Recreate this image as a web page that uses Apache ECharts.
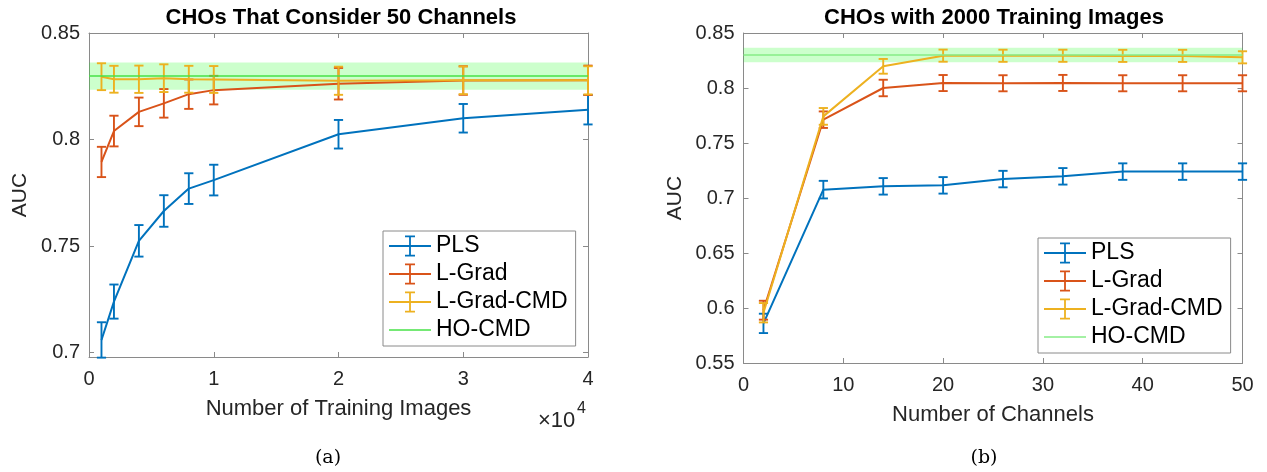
<!DOCTYPE html>
<html><head><meta charset="utf-8">
<script src="https://cdn.jsdelivr.net/npm/echarts@6/dist/echarts.min.js"></script>
<style>html,body{margin:0;padding:0;background:#fff}#c{width:1267px;height:472px}</style>
</head><body><div id="c"></div>
<script>
// ---- Data ----
const trainImages = [1000, 2000, 4000, 6000, 8000, 10000, 20000, 30000, 40000];
const plsA      = [0.706, 0.724, 0.7525, 0.7665, 0.777, 0.781, 0.8025, 0.810, 0.814];
const plsAErr   = [0.0083, 0.0080, 0.0074, 0.0074, 0.0072, 0.0072, 0.0067, 0.0067, 0.0069];
const lgradA    = [0.7895, 0.804, 0.813, 0.817, 0.8213, 0.8232, 0.8262, 0.8277, 0.8278];
const lgradAErr = [0.0071, 0.0072, 0.0067, 0.0067, 0.0069, 0.0067, 0.0074, 0.0067, 0.0069];
const cmdA      = [0.8295, 0.8283, 0.8283, 0.8288, 0.8283, 0.8282, 0.8276, 0.8278, 0.8278];
const cmdAErr   = [0.0063, 0.0063, 0.0064, 0.0065, 0.0063, 0.0063, 0.0066, 0.0065, 0.0066];
const hoA = 0.8298, hoAErr = 0.0064;

const channels  = [2, 8, 14, 20, 26, 32, 38, 44, 50];
const plsB      = [0.586, 0.7076, 0.7106, 0.7115, 0.7172, 0.7197, 0.7240, 0.7240, 0.7240];
const plsBErr   = [0.0088, 0.0080, 0.0075, 0.0075, 0.0075, 0.0075, 0.0075, 0.0075, 0.0075];
const lgradB    = [0.598, 0.7712, 0.800, 0.8045, 0.8043, 0.8046, 0.8043, 0.8043, 0.8043];
const lgradBErr = [0.0086, 0.0075, 0.0075, 0.0073, 0.0073, 0.0073, 0.0073, 0.0073, 0.0073];
const cmdB      = [0.5957, 0.7742, 0.8197, 0.8294, 0.8293, 0.8293, 0.8292, 0.8292, 0.8279];
const cmdBErr   = [0.0088, 0.0076, 0.0067, 0.0055, 0.0055, 0.0055, 0.0055, 0.0055, 0.0055];
const hoB = 0.8300, hoBErr = 0.0065;

const yTicksA = [0.7, 0.75, 0.8, 0.85];
const yTicksB = [0.55, 0.6, 0.65, 0.7, 0.75, 0.8, 0.85];
const seriesNames = ['PLS', 'L-Grad', 'L-Grad-CMD', 'HO-CMD'];

// ---- Styling ----
const FONT = '"Liberation Sans", Arial, Helvetica, sans-serif';
const SERIF = '"DejaVu Serif", "Liberation Serif", serif';
const C = { pls: '#0072BD', lgrad: '#D95319', cmd: '#EDB120', hoA: '#47e247', hoB: '#86ec86' };
const AX = '#8a8a8a', TXT = '#262626';

function errBars(color) {
  return function (params, api) {
    const x = api.value(0), y = api.value(1), e = api.value(2);
    const t = api.coord([x, y + e]), b = api.coord([x, y - e]);
    const w = 4.6;
    const st = { stroke: color, lineWidth: 1.9 };
    return { type: 'group', children: [
      { type: 'line', shape: { x1: t[0], y1: t[1], x2: b[0], y2: b[1] }, style: st },
      { type: 'line', shape: { x1: t[0] - w, y1: t[1], x2: t[0] + w, y2: t[1] }, style: st },
      { type: 'line', shape: { x1: b[0] - w, y1: b[1], x2: b[0] + w, y2: b[1] }, style: st }
    ]};
  };
}
const pairs = (xs, ys) => xs.map((x, i) => [x, ys[i]]);
const triples = (xs, ys, es) => xs.map((x, i) => [x, ys[i], es[i]]);

function lineSeries(name, xi, yi, data, color, z) {
  return { name, type: 'line', xAxisIndex: xi, yAxisIndex: yi, data, showSymbol: false, symbol: 'none',
    lineStyle: { color, width: 2 }, itemStyle: { color }, z, silent: true, animation: false };
}
function barSeries(name, xi, yi, data, color, z) {
  return { name, type: 'custom', xAxisIndex: xi, yAxisIndex: yi, data, renderItem: errBars(color),
    itemStyle: { color }, z, silent: true, animation: false, clip: false };
}
function hoSeries(xi, yi, v, e, color) {
  return { name: 'HO-CMD', type: 'line', xAxisIndex: xi, yAxisIndex: yi, data: [], z: 10,
    itemStyle: { color }, lineStyle: { color }, animation: false, silent: true,
    markArea: { silent: true, itemStyle: { color: 'rgba(0,255,0,0.2)' }, data: [[{ yAxis: v - e }, { yAxis: v + e }]] },
    markLine: { silent: true, symbol: 'none', label: { show: false },
      lineStyle: { color, width: 1.5, type: 'solid' }, data: [{ yAxis: v }] } };
}

function xAxisCfg(grid, pos, min, max, interval, showLabel, fmt, name) {
  return { type: 'value', gridIndex: grid, position: pos, min, max, interval,
    axisLine: { show: true, onZero: false, lineStyle: { color: AX, width: 1 } },
    axisTick: { show: true, inside: true, length: 5, lineStyle: { color: AX } },
    splitLine: { show: false },
    axisLabel: { show: showLabel, formatter: fmt, fontSize: 20, fontFamily: FONT, color: TXT, margin: 12 },
    name: name || '', nameLocation: 'middle', nameGap: 41,
    nameTextStyle: { fontSize: 22, fontFamily: FONT, color: TXT } };
}
function yAxisCfg(grid, pos, min, max, ticks, showLabel, name) {
  return { type: 'value', gridIndex: grid, position: pos, min, max,
    axisLine: { show: true, onZero: false, lineStyle: { color: AX, width: 1 } },
    axisTick: { show: true, inside: true, length: 5, lineStyle: { color: AX }, customValues: ticks },
    splitLine: { show: false },
    axisLabel: { show: showLabel, customValues: ticks, fontSize: 20, fontFamily: FONT, color: TXT, margin: 9 },
    name: name || '', nameLocation: 'middle', nameGap: 58,
    nameTextStyle: { fontSize: 21, fontFamily: FONT, color: TXT } };
}

const EB = 'path://M0,9.6h42v1.8h-42z M20.1,0h1.8v21h-1.8z M16,0h10v1.8h-10z M16,19.2h10v1.8h-10z';
const HL = 'path://M0,0h42v1.6h-42z';
function legendCfg(left, top, hoColor) {
  return { left, top, orient: 'vertical', padding: [3, 8, 4, 6], itemWidth: 42, itemHeight: 21, itemGap: 4,
    borderColor: AX, borderWidth: 1, backgroundColor: '#fff', selectedMode: false, z: 20,
    itemStyle: { borderWidth: 0 },
    textStyle: { fontSize: 23, fontFamily: FONT, color: '#000', lineHeight: 24 },
    data: [
      { name: seriesNames[0], icon: EB, itemStyle: { color: C.pls, borderWidth: 0 } },
      { name: seriesNames[1], icon: EB, itemStyle: { color: C.lgrad, borderWidth: 0 } },
      { name: seriesNames[2], icon: EB, itemStyle: { color: C.cmd, borderWidth: 0 } },
      { name: seriesNames[3], icon: HL, itemStyle: { color: hoColor, borderWidth: 0 } }
    ] };
}

const option = {
  animation: false,
  backgroundColor: '#fff',
  grid: [
    { left: 89, top: 33, width: 499, height: 324 },
    { left: 743.5, top: 33, width: 499, height: 330 }
  ],
  xAxis: [
    xAxisCfg(0, 'bottom', 0, 40000, 10000, true, v => String(v / 10000), 'Number of Training Images'),
    xAxisCfg(0, 'top', 0, 40000, 10000, false),
    xAxisCfg(1, 'bottom', 0, 50, 10, true, v => String(v), 'Number of Channels'),
    xAxisCfg(1, 'top', 0, 50, 10, false)
  ],
  yAxis: [
    yAxisCfg(0, 'left', 0.698, 0.85, yTicksA, true, 'AUC'),
    yAxisCfg(0, 'right', 0.698, 0.85, yTicksA, false),
    yAxisCfg(1, 'left', 0.55, 0.85, yTicksB, true, 'AUC'),
    yAxisCfg(1, 'right', 0.55, 0.85, yTicksB, false)
  ],
  legend: [legendCfg(383, 231, C.hoA), legendCfg(1038, 238, C.hoB)],
  series: [
    lineSeries('PLS', 0, 0, pairs(trainImages, plsA), C.pls, 2),
    barSeries('PLS', 0, 0, triples(trainImages, plsA, plsAErr), C.pls, 2),
    lineSeries('L-Grad', 0, 0, pairs(trainImages, lgradA), C.lgrad, 3),
    barSeries('L-Grad', 0, 0, triples(trainImages, lgradA, lgradAErr), C.lgrad, 3),
    lineSeries('L-Grad-CMD', 0, 0, pairs(trainImages, cmdA), C.cmd, 4),
    barSeries('L-Grad-CMD', 0, 0, triples(trainImages, cmdA, cmdAErr), C.cmd, 4),
    hoSeries(0, 0, hoA, hoAErr, C.hoA),
    lineSeries('PLS', 2, 2, pairs(channels, plsB), C.pls, 2),
    barSeries('PLS', 2, 2, triples(channels, plsB, plsBErr), C.pls, 2),
    lineSeries('L-Grad', 2, 2, pairs(channels, lgradB), C.lgrad, 3),
    barSeries('L-Grad', 2, 2, triples(channels, lgradB, lgradBErr), C.lgrad, 3),
    lineSeries('L-Grad-CMD', 2, 2, pairs(channels, cmdB), C.cmd, 4),
    barSeries('L-Grad-CMD', 2, 2, triples(channels, cmdB, cmdBErr), C.cmd, 4),
    hoSeries(2, 2, hoB, hoBErr, C.hoB)
  ],
  graphic: [
    { type: 'text', x: 341, y: 18, style: { text: 'CHOs That Consider 50 Channels', font: 'bold 22px ' + FONT, fill: '#000', align: 'center', verticalAlign: 'middle' } },
    { type: 'text', x: 994, y: 18, style: { text: 'CHOs with 2000 Training Images', font: 'bold 22px ' + FONT, fill: '#000', align: 'center', verticalAlign: 'middle' } },
    { type: 'text', x: 538, y: 421, style: { text: '×10', font: '22px ' + FONT, fill: TXT, align: 'left', verticalAlign: 'middle' } },
    { type: 'text', x: 577, y: 409, style: { text: '4', font: '16px ' + FONT, fill: TXT, align: 'left', verticalAlign: 'middle' } },
    { type: 'text', x: 328, y: 458, style: { text: '(a)', font: '19px ' + SERIF, fill: '#000', align: 'center', verticalAlign: 'middle' } },
    { type: 'text', x: 984, y: 458, style: { text: '(b)', font: '19px ' + SERIF, fill: '#000', align: 'center', verticalAlign: 'middle' } }
  ]
};
const chart = echarts.init(document.getElementById('c'));
chart.setOption(option);
</script>
</body></html>
